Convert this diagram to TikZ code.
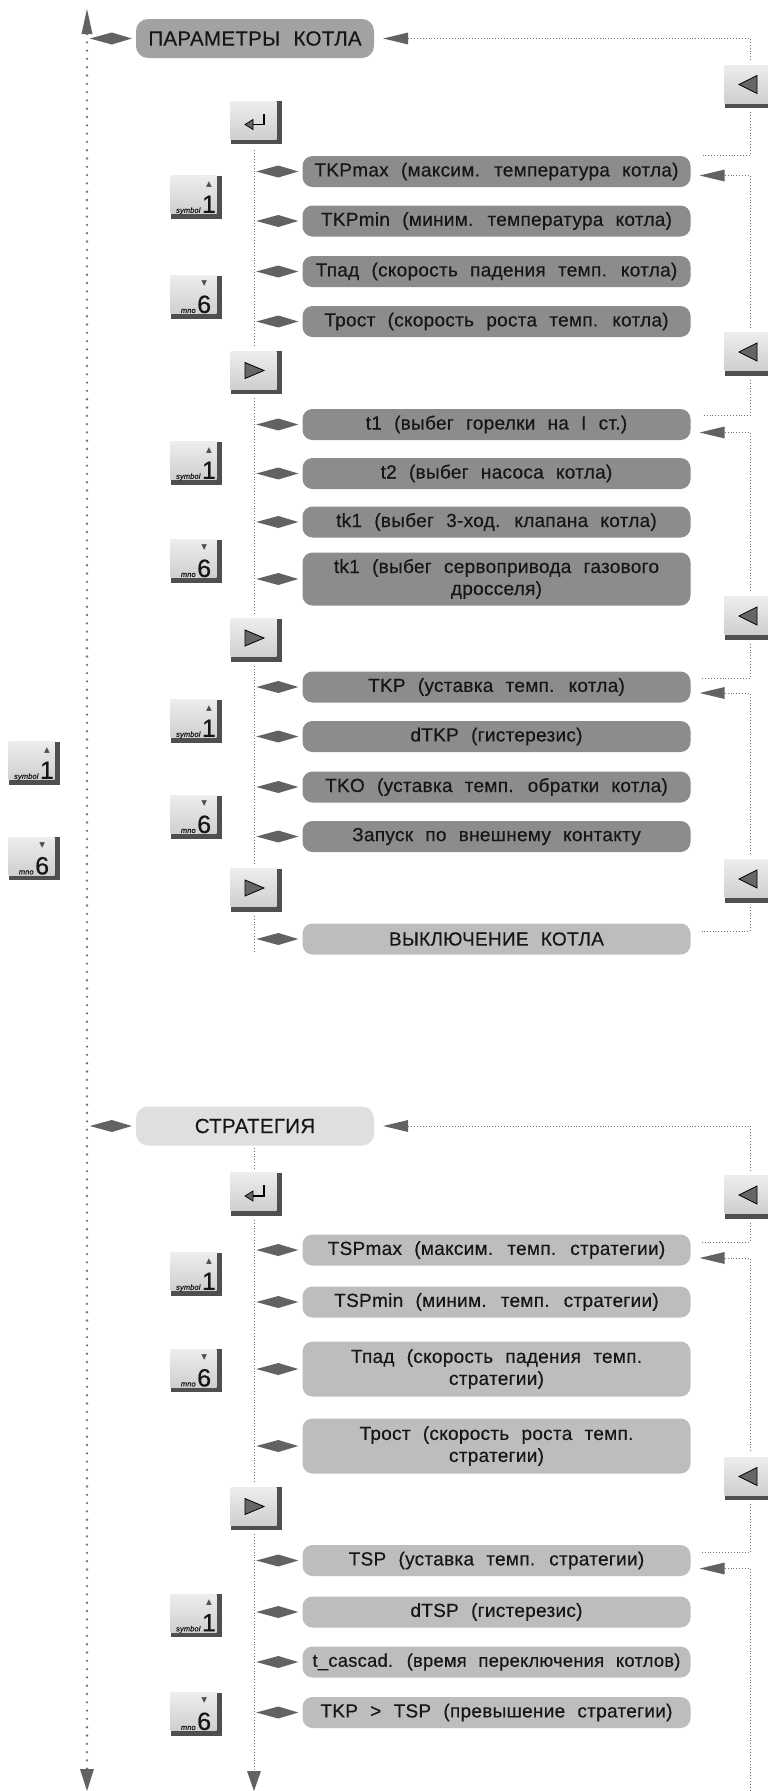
\documentclass[tikz,border=0pt]{standalone}
\usepackage{fontspec}
\setmainfont{Liberation Sans}[WordSpace=2.2,LetterSpace=1.5,FakeBold=0.4]
\newfontfamily\dejavu{DejaVu Sans}
\usetikzlibrary{calc}
\definecolor{boxA}{HTML}{A2A2A2}
\definecolor{boxB}{HTML}{8C8C8C}
\definecolor{boxC}{HTML}{BDBDBD}
\definecolor{boxD}{HTML}{DFDFDF}
\definecolor{txt}{HTML}{161616}
\definecolor{tipc}{HTML}{626262}
\definecolor{dotc}{HTML}{737373}
\definecolor{keytop}{HTML}{EDEDED}
\definecolor{keybot}{HTML}{CBCBCB}
\definecolor{keydark}{HTML}{4F4F4F}
\definecolor{trifill}{HTML}{666666}
\newcommand{\numkey}[3]{{\fontsize{7.5}{7.5}\selectfont\itshape #1}\hspace{1.5pt}\begin{tabular}[b]{@{}c@{}}{\dejavu\fontsize{7.5}{7.5}\selectfont\color{keydark}#2}\\[6pt]{\fontsize{25}{20}\selectfont #3}\end{tabular}\hspace{6pt}}
\newcommand{\diam}[1]{\fill[tipc] ($(#1.west)+(-46,0)$) -- ($(#1.west)+(-24,-6)$) -- ($(#1.west)+(-4,0)$) -- ($(#1.west)+(-24,6)$) -- cycle;}
\newcommand{\intri}[2]{\fill[tipc] ($(#1.east)+(9,#2)$) -- ($(#1.east)+(34,#2-6)$) -- ($(#1.east)+(34,#2+6)$) -- cycle;}
\newcommand{\rtri}[1]{\filldraw[fill=trifill,draw=black,line width=0.8pt] ($(#1.center)+(-11,-10)$) -- ($(#1.center)+(8,-2)$) -- ($(#1.center)+(-11,6)$) -- cycle;}
\newcommand{\ltri}[1]{\filldraw[fill=trifill,draw=black,line width=0.8pt] ($(#1.center)+(7,-11)$) -- ($(#1.center)+(-11,-2)$) -- ($(#1.center)+(7,7)$) -- cycle;}
\newcommand{\entersym}[1]{\filldraw[fill=trifill,draw=black,line width=0.7pt] ($(#1.center)+(-11,2)$) -- ($(#1.center)+(-3,-3)$) -- ($(#1.center)+(-3,7)$) -- cycle;
\draw[black,line width=1.3pt] ($(#1.center)+(-3,2)$) -- ($(#1.center)+(8,2)$) -- ($(#1.center)+(8,-9)$);}
\tikzset{
 anybox/.style={rectangle, inner sep=2pt, text=txt, align=center},
 titlebox/.style={anybox, rounded corners=12pt, minimum width=238pt, minimum height=39pt, font=\fontsize{20.5}{24}\selectfont},
 itembox/.style={anybox, rounded corners=10pt, minimum width=388pt, minimum height=31pt, font=\fontsize{19}{22}\selectfont},
 keybtn/.style={rectangle, minimum width=51pt, minimum height=43pt, inner sep=0pt, text=txt, fill=keydark,
   path picture={\shade[top color=keytop,bottom color=keybot] (path picture bounding box.north west) rectangle ([xshift=-5pt,yshift=5pt]path picture bounding box.south east);}},
 fdot/.style={draw=dotc, line width=0.9pt, dash pattern=on 0.9pt off 2pt},
 mdot/.style={draw=dotc, line width=2.6pt, line cap=round, dash pattern=on 0pt off 8.3pt},
}
\begin{document}
\begin{tikzpicture}[x=1pt,y=-1pt]
\useasboundingbox (0,0) rectangle (768,1791);
\clip (0,0) rectangle (768,1791);
\fill[white] (0,0) rectangle (768,1791);

% main left line
\coordinate (Ltop) at (87,34);
\coordinate (Lbot) at (87,1769);
\draw[mdot] (Ltop) -- (Lbot);
\fill[tipc] (81.5,34) -- (87,9) -- (92.5,34) -- cycle;
\fill[tipc] (80,1769) -- (87,1791) -- (94,1769) -- cycle;

% ---------- section 1 ----------
\node[titlebox, fill=boxA] (T1) at (255,38.5) {ПАРАМЕТРЫ КОТЛА};
\node[keybtn] (en1) at (256,122.5) {};
\node[itembox, fill=boxB] (a1) at (496.5,171.5) {TKPmax (максим. температура котла)};
\node[itembox, fill=boxB] (a2) at (496.5,221) {TKPmin (миним. температура котла)};
\node[itembox, fill=boxB] (a3) at (496.5,271.5) {Тпад (скорость падения темп. котла)};
\node[itembox, fill=boxB] (a4) at (496.5,321.5) {Трост (скорость роста темп. котла)};
\node[keybtn] (r1) at (256,372.5) {};
\node[itembox, fill=boxB] (b1) at (496.5,424.5) {t1 (выбег горелки на I ст.)};
\node[itembox, fill=boxB] (b2) at (496.5,473.5) {t2 (выбег насоса котла)};
\node[itembox, fill=boxB] (b3) at (496.5,522) {tk1 (выбег 3-ход. клапана котла)};
\node[itembox, fill=boxB, minimum height=53pt] (b4) at (496.5,579) {tk1 (выбег сервопривода газового\\дросселя)};
\node[keybtn] (r2) at (256,640) {};
\node[itembox, fill=boxB] (c1) at (496.5,687) {TKP (уставка темп. котла)};
\node[itembox, fill=boxB] (c2) at (496.5,736.5) {dTKP (гистерезис)};
\node[itembox, fill=boxB] (c3) at (496.5,787) {TKO (уставка темп. обратки котла)};
\node[itembox, fill=boxB] (c4) at (496.5,836.5) {Запуск по внешнему контакту};
\node[keybtn] (r3) at (256,890) {};
\node[itembox, fill=boxC] (d1) at (496.5,939) {ВЫКЛЮЧЕНИЕ КОТЛА};

\entersym{en1}
\rtri{r1}\rtri{r2}\rtri{r3}

% inner line section 1
\draw[fdot] ($(en1.south)+(-2,6)$) -- ($(r1.north)+(-2,-4)$);
\draw[fdot] ($(r1.south)+(-2,4)$) -- ($(r2.north)+(-2,-4)$);
\draw[fdot] ($(r2.south)+(-2,4)$) -- ($(r3.north)+(-2,-4)$);
\coordinate (d1end) at ($(r3.south |- d1.center)+(-2,14)$);
\draw[fdot] ($(r3.south)+(-2,4)$) -- (d1end);

\foreach \n in {T1,a1,a2,a3,a4,b1,b2,b3,b4,c1,c2,c3,c4,d1} {\diam{\n}}

% left keys section 1
\node[keybtn] (s1) at (196,197) {\numkey{symbol}{▲}{1}};
\node[keybtn] (m1) at (196,297) {\numkey{mno}{▼}{6}};
\node[keybtn] (s2) at (196,463) {\numkey{symbol}{▲}{1}};
\node[keybtn] (m2) at (196,561) {\numkey{mno}{▼}{6}};
\node[keybtn] (s3) at (196,721) {\numkey{symbol}{▲}{1}};
\node[keybtn] (m3) at (196,817) {\numkey{mno}{▼}{6}};
\node[keybtn] (s0) at (34,763) {\numkey{symbol}{▲}{1}};
\node[keybtn] (m0) at (34,858.5) {\numkey{mno}{▼}{6}};

% right keys section 1
\node[keybtn] (rk1) at (750,86.5) {};
\node[keybtn] (rk2) at (750,354) {};
\node[keybtn] (rk3) at (750,618) {};
\node[keybtn] (rk4) at (750,881) {};
\ltri{rk1}\ltri{rk2}\ltri{rk3}\ltri{rk4}

\intri{T1}{0}
\draw[fdot] ($(T1.east)+(34,0)$) -| ($(rk1.north)+(0,-4)$);
\draw[fdot] ($(rk1.south)+(0,4)$) |- ($(a1.east)+(11,-16)$);
\intri{a1}{4}
\draw[fdot] ($(a1.east)+(34,4)$) -| ($(rk2.north)+(0,-4)$);
\draw[fdot] ($(rk2.south)+(0,4)$) |- ($(b1.east)+(11,-9)$);
\intri{b1}{8}
\draw[fdot] ($(b1.east)+(34,8)$) -| ($(rk3.north)+(0,-4)$);
\draw[fdot] ($(rk3.south)+(0,4)$) |- ($(c1.east)+(11,-9)$);
\intri{c1}{6}
\draw[fdot] ($(c1.east)+(34,6)$) -| ($(rk4.north)+(0,-4)$);
\draw[fdot] ($(rk4.south)+(0,4)$) |- ($(d1.east)+(11,-8)$);

% ---------- section 2 ----------
\node[titlebox, fill=boxD] (T2) at (255,1126) {СТРАТЕГИЯ};
\node[keybtn] (en2) at (256,1194) {};
\node[itembox, fill=boxC] (e1) at (496.5,1250) {TSPmax (максим. темп. стратегии)};
\node[itembox, fill=boxC] (e2) at (496.5,1302) {TSPmin (миним. темп. стратегии)};
\node[itembox, fill=boxC, minimum height=55pt] (e3) at (496.5,1369) {Тпад (скорость падения темп.\\стратегии)};
\node[itembox, fill=boxC, minimum height=55pt] (e4) at (496.5,1446) {Трост (скорость роста темп.\\стратегии)};
\node[keybtn] (r4) at (256,1508.5) {};
\node[itembox, fill=boxC] (f1) at (496.5,1560.5) {TSP (уставка темп. стратегии)};
\node[itembox, fill=boxC] (f2) at (496.5,1612) {dTSP (гистерезис)};
\node[itembox, fill=boxC, font=\fontsize{18.3}{22}\selectfont] (f3) at (496.5,1662) {t\_cascad. (время переключения котлов)};
\node[itembox, fill=boxC] (f4) at (496.5,1712.5) {TKP > TSP (превышение стратегии)};

\entersym{en2}
\rtri{r4}

\coordinate (Ibot) at (254,1771);
\draw[fdot] ($(T2.south)+(-1,2)$) -- ($(en2.north)+(-2,-3)$);
\draw[fdot] ($(en2.south)+(-2,4)$) -- ($(r4.north)+(-2,-4)$);
\draw[fdot] ($(r4.south)+(-2,4)$) -- (Ibot);
\fill[tipc] (247,1771) -- (254,1791) -- (261,1771) -- cycle;

\foreach \n in {T2,e1,e2,e3,e4,f1,f2,f3,f4} {\diam{\n}}

\node[keybtn] (s4) at (196,1274) {\numkey{symbol}{▲}{1}};
\node[keybtn] (m4) at (196,1370.5) {\numkey{mno}{▼}{6}};
\node[keybtn] (s5) at (196,1615.5) {\numkey{symbol}{▲}{1}};
\node[keybtn] (m5) at (196,1714) {\numkey{mno}{▼}{6}};

\node[keybtn] (rk5) at (750,1197) {};
\node[keybtn] (rk6) at (750,1478.5) {};
\ltri{rk5}\ltri{rk6}

\intri{T2}{0}
\draw[fdot] ($(T2.east)+(34,0)$) -| ($(rk5.north)+(0,-4)$);
\draw[fdot] ($(rk5.south)+(0,4)$) |- ($(e1.east)+(11,-8)$);
\intri{e1}{8}
\draw[fdot] ($(e1.east)+(34,8)$) -| ($(rk6.north)+(0,-4)$);
\draw[fdot] ($(rk6.south)+(0,4)$) |- ($(f1.east)+(11,-8)$);
\intri{f1}{8}
\coordinate (Rbot) at (750,1791);
\draw[fdot] ($(f1.east)+(34,8)$) -| (Rbot);
\end{tikzpicture}
\end{document}
